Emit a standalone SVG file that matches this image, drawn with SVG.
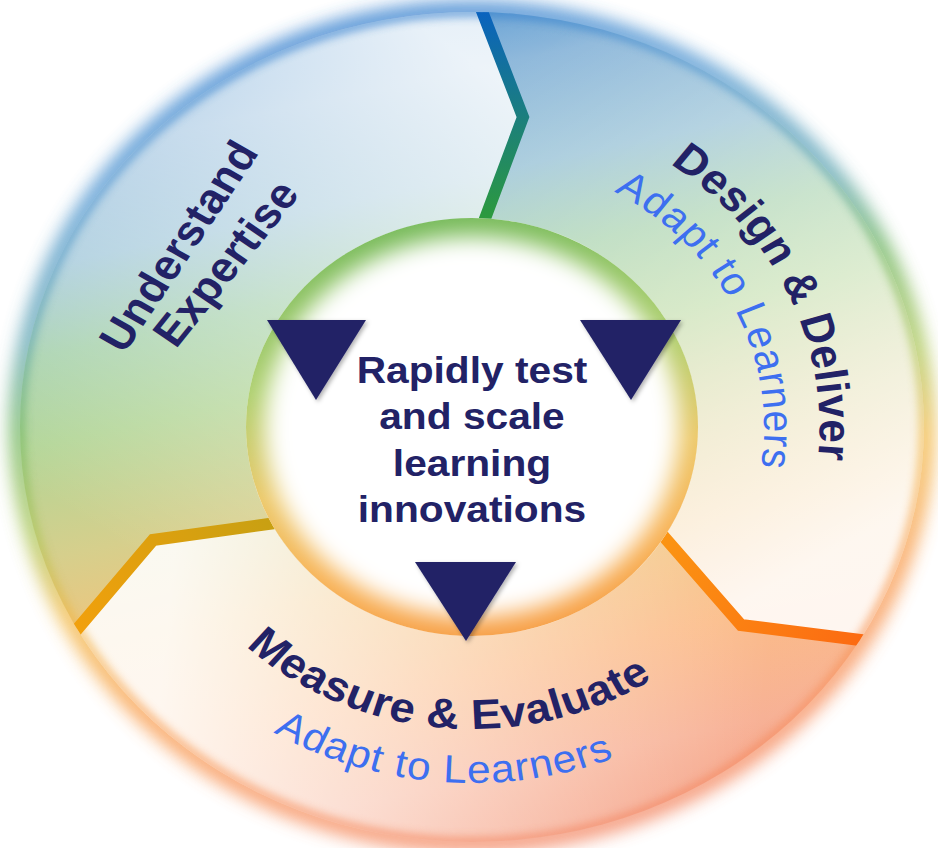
<svg xmlns="http://www.w3.org/2000/svg" width="938" height="848" viewBox="0 0 938 848">
<style>
.bold{font-family:"Liberation Sans",Arial,sans-serif;font-weight:bold;fill:#222266}
.ring{font-size:42px;letter-spacing:0.5px}
.blue{font-family:"Liberation Sans",Arial,sans-serif;font-size:39px;fill:#3d6ff0;letter-spacing:1px}
.ctr{font-size:37.5px}
.tri{fill:#222266;filter:url(#shadow)}
.div{fill:none;stroke-width:12;stroke-linejoin:miter}
</style>
<defs>
<linearGradient id="base" gradientUnits="userSpaceOnUse" x1="380" y1="0" x2="560" y2="850">
<stop offset="0" stop-color="#4a90d0"/>
<stop offset="0.1" stop-color="#86b3d8"/>
<stop offset="0.22" stop-color="#98c2d6"/>
<stop offset="0.32" stop-color="#a2cfa8"/>
<stop offset="0.42" stop-color="#b2d596"/>
<stop offset="0.55" stop-color="#d6cf8c"/>
<stop offset="0.66" stop-color="#f2c47c"/>
<stop offset="0.78" stop-color="#fbb882"/>
<stop offset="0.9" stop-color="#f7ad90"/>
<stop offset="1" stop-color="#f49c80"/>
</linearGradient>
<linearGradient id="edge" gradientUnits="userSpaceOnUse" x1="380" y1="0" x2="560" y2="850">
<stop offset="0" stop-color="#2a78cc"/>
<stop offset="0.15" stop-color="#4a92cf"/>
<stop offset="0.3" stop-color="#5aa2b0"/>
<stop offset="0.4" stop-color="#6ab25a"/>
<stop offset="0.52" stop-color="#a8c450"/>
<stop offset="0.62" stop-color="#f2b640"/>
<stop offset="0.75" stop-color="#f89a48"/>
<stop offset="0.9" stop-color="#f68a58"/>
<stop offset="1" stop-color="#f28260"/>
</linearGradient>
<linearGradient id="innerG" gradientUnits="userSpaceOnUse" x1="440" y1="218" x2="500" y2="636">
<stop offset="0" stop-color="#78bb5c"/>
<stop offset="0.35" stop-color="#b0d070"/>
<stop offset="0.6" stop-color="#ecc868"/>
<stop offset="0.8" stop-color="#f7b458"/>
<stop offset="1" stop-color="#f7a048"/>
</linearGradient>
<linearGradient id="ovL" gradientUnits="userSpaceOnUse" x1="140" y1="560" x2="470" y2="60">
<stop offset="0" stop-color="#fff" stop-opacity="0"/>
<stop offset="1" stop-color="#fff" stop-opacity="0.85"/>
</linearGradient>
<linearGradient id="ovR" gradientUnits="userSpaceOnUse" x1="520" y1="60" x2="800" y2="570">
<stop offset="0" stop-color="#fff" stop-opacity="0.08"/>
<stop offset="1" stop-color="#fff" stop-opacity="0.88"/>
</linearGradient>
<linearGradient id="ovB" gradientUnits="userSpaceOnUse" x1="770" y1="660" x2="170" y2="600">
<stop offset="0" stop-color="#fff" stop-opacity="0.05"/>
<stop offset="1" stop-color="#fff" stop-opacity="0.88"/>
</linearGradient>
<linearGradient id="d1" gradientUnits="userSpaceOnUse" x1="0" y1="10" x2="0" y2="220">
<stop offset="0" stop-color="#0a62c0"/>
<stop offset="1" stop-color="#2c9a3c"/>
</linearGradient>
<linearGradient id="d2" gradientUnits="userSpaceOnUse" x1="663" y1="535" x2="865" y2="640">
<stop offset="0" stop-color="#fb9412"/>
<stop offset="1" stop-color="#fc6a12"/>
</linearGradient>
<linearGradient id="d3" gradientUnits="userSpaceOnUse" x1="268" y1="524" x2="75" y2="632">
<stop offset="0" stop-color="#c9a012"/>
<stop offset="1" stop-color="#f2a00c"/>
</linearGradient>
<clipPath id="ringClip">
<path clip-rule="evenodd" d="M20,427 A452,415 0 1 0 924,427 A452,415 0 1 0 20,427 Z M246,427 A226,209 0 1 0 698,427 A226,209 0 1 0 246,427 Z"/>
</clipPath>
<clipPath id="outerClip"><ellipse cx="472" cy="427" rx="452" ry="415"/></clipPath>
<clipPath id="innerClip"><ellipse cx="472" cy="427" rx="226" ry="209"/></clipPath>
<filter id="blur8" x="-20%" y="-20%" width="140%" height="140%"><feGaussianBlur stdDeviation="9"/></filter>
<filter id="blur4" x="-20%" y="-20%" width="140%" height="140%"><feGaussianBlur stdDeviation="4"/></filter>
<filter id="blur14" x="-30%" y="-30%" width="160%" height="160%"><feGaussianBlur stdDeviation="11"/></filter>
<filter id="shadow" x="-20%" y="-20%" width="150%" height="150%"><feDropShadow dx="2" dy="2" stdDeviation="2" flood-color="#000" flood-opacity="0.3"/></filter>
<path id="arcDD" d="M29.6,-318.6 A320,320 0 0 1 261.2,184.9"/>
<path id="arcAR" d="M18.3,-268.4 A269,269 0 0 1 223.3,150"/>
<path id="arcME" d="M-273.7,127.6 A302,302 0 0 0 247.4,173.2"/>
<path id="arcAB" d="M-321.6,152.7 A356,356 0 0 0 293,202.1"/>
</defs>

<g id="ring">
<ellipse cx="472" cy="427" rx="452" ry="415" fill="none" stroke="url(#edge)" stroke-width="20" opacity="0.85" filter="url(#blur8)"/>
<path fill="url(#base)" fill-rule="evenodd" d="M20,427 A452,415 0 1 0 924,427 A452,415 0 1 0 20,427 Z M246,427 A226,209 0 1 0 698,427 A226,209 0 1 0 246,427 Z"/>
<g clip-path="url(#ringClip)">
<polygon fill="url(#ovL)" points="472,427 483,222 523,117 480,5 470,-20 -50,-20 -50,780 40,673 75,632 153,540 268,524 300,520"/>
<polygon fill="url(#ovR)" points="472,427 640,510 663,535 741,625 865,640 1000,656 1000,-20 470,-20 480,5 523,117 483,222"/>
<polygon fill="url(#ovB)" points="472,427 300,520 268,524 153,540 75,632 40,673 -50,780 -50,900 1000,900 1000,656 865,640 741,625 663,535 640,510"/>
</g>
<g clip-path="url(#outerClip)">
<ellipse cx="472" cy="427" rx="452" ry="415" fill="none" stroke="url(#edge)" stroke-width="10" opacity="0.6" filter="url(#blur4)"/>
</g>
<g clip-path="url(#ringClip)">
<polyline class="div" stroke="url(#d1)" points="470,-20 523,117 480,232"/>
<polyline class="div" stroke="url(#d2)" points="645,515 741,625 900,645"/>
<polyline class="div" stroke="url(#d3)" points="290,521 153,540 40,673"/>
</g>
</g>

<g id="center">
<ellipse cx="472" cy="427" rx="226" ry="209" fill="url(#innerG)"/>
<g clip-path="url(#innerClip)">
<ellipse cx="472" cy="427" rx="207" ry="190" fill="#fff" filter="url(#blur14)"/>
</g>
<g transform="translate(472,0) scale(1.086,1)" class="bold ctr" text-anchor="middle">
<text x="0" y="383">Rapidly test</text>
<text x="0" y="429">and scale</text>
<text x="0" y="476">learning</text>
<text x="0" y="522">innovations</text>
</g>
</g>

<g id="connectors">
<polygon class="tri" points="267,320 366,320 316,400"/>
<polygon class="tri" points="580,320 681,320 631,400"/>
<polygon class="tri" points="415,562 516,562 466,641"/>
</g>

<g transform="translate(472,427) scale(1.086,1)">
<g id="seg-understand">
<text class="bold ring" text-anchor="middle" transform="translate(-269.8,-181) rotate(-58.3)" x="0" y="14">Understand</text>
<text class="bold ring" text-anchor="middle" transform="translate(-225.6,-163) rotate(-53.5)" x="0" y="13">Expertise</text>
</g>
<g id="seg-design">
<text class="bold ring" text-anchor="middle"><textPath href="#arcDD" startOffset="50%">Design &amp; Deliver</textPath></text>
<text class="blue" text-anchor="middle"><textPath href="#arcAR" startOffset="50%">Adapt to Learners</textPath></text>
</g>
<g id="seg-measure">
<text class="bold ring" text-anchor="middle"><textPath href="#arcME" startOffset="50%">Measure &amp; Evaluate</textPath></text>
<text class="blue" text-anchor="middle"><textPath href="#arcAB" startOffset="50%">Adapt to Learners</textPath></text>
</g>
</g>
</svg>
